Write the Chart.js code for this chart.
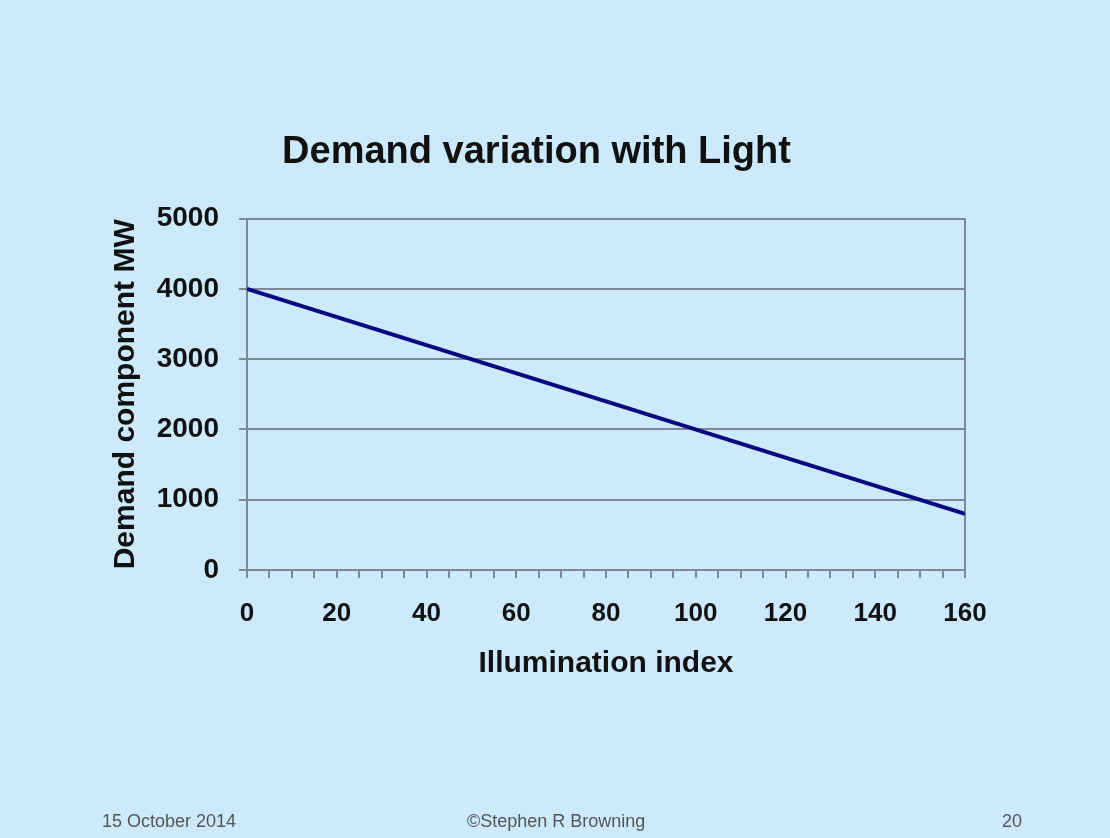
<!DOCTYPE html>
<html>
<head>
<meta charset="utf-8">
<script src="https://cdn.jsdelivr.net/npm/chart.js@4"></script>
<style>
  html, body { margin: 0; padding: 0; background: #cdeafd; }
  #wrap { position: relative; width: 1110px; height: 838px; }
  .foot { position: absolute; top: 811px; line-height: 20px; font: 18px "Liberation Sans", Arial, sans-serif; color: #555; }
</style>
</head>
<body>
<div id="wrap">
  <canvas id="grafico" width="1110" height="838"></canvas>
  <div class="foot" style="left:102px">15 October 2014</div>
  <div class="foot" style="left:467px">©Stephen R Browning</div>
  <div class="foot" style="left:1002px">20</div>
</div>
<script>
// dados do gráfico
const illumination = [0, 160];
const demandMW = [4000, 800];
const yTicks = [0, 1000, 2000, 3000, 4000, 5000];
const xLabelStep = 20;

const axisGray = '#7d8a95';
const fonte = "'Liberation Sans', Arial, sans-serif";

document.addEventListener('DOMContentLoaded', () => {
    const ctx = document.getElementById('grafico');
    new Chart(ctx, {
        type: 'line',
        data: {
            datasets: [{
                label: 'Demand',
                data: illumination.map((x, i) => ({ x: x, y: demandMW[i] })),
                borderColor: '#0a0a80',
                borderWidth: 4,
                pointRadius: 0,
                fill: false,
                tension: 0
            }]
        },
        options: {
            responsive: false,
            animation: false,
            layout: { padding: { left: 108, right: 145, top: 118, bottom: 156 } },
            plugins: {
                legend: { display: false },
                tooltip: { enabled: false },
                title: {
                    display: true,
                    text: 'Demand variation with Light',
                    color: '#111',
                    font: { family: fonte, size: 38, weight: 'bold' },
                    padding: { top: 12, bottom: 43 }
                }
            },
            scales: {
                x: {
                    type: 'linear',
                    min: 0, max: 160,
                    border: { display: true, color: axisGray, width: 2 },
                    grid: {
                        drawOnChartArea: true,
                        color: c => (c.tick && c.tick.value === 160) ? axisGray : 'transparent',
                        lineWidth: 2,
                        tickColor: axisGray,
                        tickLength: 8
                    },
                    ticks: {
                        stepSize: 5,
                        autoSkip: false,
                        maxRotation: 0,
                        color: '#111',
                        padding: 20,
                        font: { family: fonte, size: 26, weight: 'bold' },
                        callback: v => (v % xLabelStep === 0 ? String(v) : '')
                    },
                    title: {
                        display: true,
                        text: 'Illumination index',
                        color: '#111',
                        font: { family: fonte, size: 30, weight: 'bold' },
                        padding: { top: 8, bottom: 0 }
                    },
                    afterFit: s => { s.height = 112; }
                },
                y: {
                    min: 0, max: 5000,
                    afterBuildTicks: s => { s.ticks = yTicks.map(v => ({ value: v })); },
                    border: { display: true, color: axisGray, width: 2 },
                    grid: {
                        color: axisGray,
                        lineWidth: 2,
                        tickColor: axisGray,
                        tickLength: 8
                    },
                    ticks: {
                        color: '#111',
                        padding: 20,
                        font: { family: fonte, size: 28, weight: 'bold' },
                        callback: v => String(v)
                    },
                    title: {
                        display: true,
                        text: 'Demand component MW',
                        color: '#111',
                        font: { family: fonte, size: 30, weight: 'bold' },
                        padding: { top: 0, bottom: 0 }
                    },
                    afterFit: s => { s.width = 139; }
                }
            }
        }
    });
});
</script>
</body>
</html>
